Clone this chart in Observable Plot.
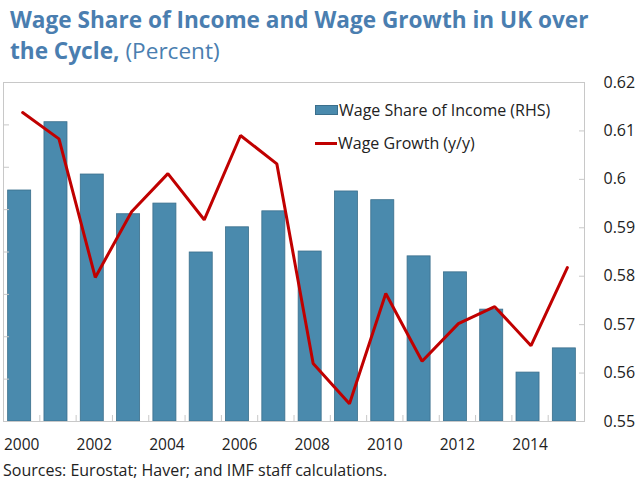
<!DOCTYPE html>
<html>
<head>
<meta charset="utf-8">
<script src="https://cdn.jsdelivr.net/npm/d3@7"></script>
<script src="https://cdn.jsdelivr.net/npm/@observablehq/plot@0.6"></script>
<style>
  html, body { margin: 0; padding: 0; background: #fff; }
  body { width: 639px; height: 481px; position: relative; overflow: hidden; font-family: "Open Sans", "Noto Sans", sans-serif; }
  #title { position: absolute; left: 10px; top: 4px; font-size: 22.6px; line-height: 31px; color: #4a7eb0; width: 625px; }
  #title .row { display: flex; white-space: nowrap; }
  #title .b { font-weight: 700; }
  #title .sub { font-weight: 400; margin-left: 6px; }
  #chart { position: absolute; left: 0; top: 65px; }
  #legend { position: absolute; left: 315px; top: 99px; font-size: 16px; color: #222; }
  .item { display: flex; align-items: center; height: 22px; margin-bottom: 11px; }
  .sw { width: 21px; height: 8px; background: #4a8aad; border: 1px solid #3b6f8c; margin-right: 1px; }
  .ln { width: 22px; height: 3px; background: #c00000; margin-right: 1px; }
  #source { position: absolute; left: 3px; top: 459px; font-size: 16px; color: #222; }
</style>
</head>
<body>
<div id="title">
  <div class="row"><span class="b">Wage Share of Income and Wage Growth in UK over</span></div>
  <div class="row"><span class="b">the Cycle,</span><span class="sub">(Percent)</span></div>
</div>
<div id="chart"></div>
<div id="legend">
  <div class="item"><div class="sw"></div>Wage Share of Income (RHS)</div>
  <div class="item"><div class="ln"></div>Wage Growth (y/y)</div>
</div>
<div id="source">Sources: Eurostat; Haver; and IMF staff calculations.</div>
<script>
const years = [2000,2001,2002,2003,2004,2005,2006,2007,2008,2009,2010,2011,2012,2013,2014,2015];
const wageShare = [0.5977,0.6118,0.6010,0.5928,0.5950,0.5849,0.5901,0.5934,0.5851,0.5975,0.5957,0.5841,0.5808,0.5731,0.5601,0.5651];
const wageGrowth = [5.29,4.67,1.40,2.95,3.85,2.76,4.75,4.08,-0.63,-1.58,1.02,-0.58,0.31,0.71,-0.21,1.63];
const rightTicks = [0.55,0.56,0.57,0.58,0.59,0.60,0.61,0.62];
const rightTickLabels = ["0.55","0.56","0.57","0.58","0.59","0.6","0.61","0.62"];
const leftTicks = [-2,-1,0,1,2,3,4,5,6];
const xLabelYears = [2000,2002,2004,2006,2008,2010,2012,2014];

const shareDomain = [0.55, 0.62];
const growthDomain = [-2, 6];
// map left-axis (growth) units onto the right-axis (share) scale
const toShare = g => shareDomain[0] + (g - growthDomain[0]) / (growthDomain[1] - growthDomain[0]) * (shareDomain[1] - shareDomain[0]);

const data = years.map((y, i) => ({year: y, share: wageShare[i], growth: wageGrowth[i]}));
const between = years.slice(1).map(y => y - 0.5);

const chart = Plot.plot({
  width: 639,
  height: 400,
  marginTop: 17,
  marginBottom: 44,
  marginLeft: 3,
  marginRight: 55,
  style: {fontFamily: "'Open Sans', 'Noto Sans', sans-serif", fontSize: "15px", color: "#222", background: "white"},
  x: {domain: [years[0] - 0.5, years[years.length - 1] + 0.5], axis: null, label: null},
  y: {domain: shareDomain, axis: null, label: null},
  marks: [
    Plot.rectY(data, {x1: d => d.year - 0.317, x2: d => d.year + 0.317, y1: shareDomain[0], y2: "share", fill: "#4a8aad", stroke: "#3b6f8c", strokeWidth: 0.8, dx: -2}),
    Plot.line(data, {x: "year", y: d => toShare(d.growth), stroke: "#c00000", strokeWidth: 3, strokeLinejoin: "miter", dx: 1}),
    Plot.frame({stroke: "#c8c8c8"}),
    Plot.axisY({anchor: "left", label: null, ticks: leftTicks.slice(1, -1).map(toShare), tickSize: -6, tickFormat: () => "", stroke: "#c8c8c8"}),
    Plot.axisY({anchor: "right", label: null, ticks: rightTicks.slice(1, -1), tickSize: -6, tickFormat: () => "", stroke: "#c8c8c8"}),
    Plot.axisY({anchor: "right", label: null, ticks: rightTicks, tickSize: 0, tickPadding: 19, tickFormat: d => rightTickLabels[rightTicks.indexOf(d)], textAnchor: "start", fill: "#222", fontSize: 16}),
    Plot.axisX({anchor: "bottom", label: null, ticks: between, tickSize: -6, tickFormat: () => "", stroke: "#c8c8c8"}),
    Plot.axisX({anchor: "bottom", label: null, ticks: xLabelYears, tickSize: 0, tickPadding: 17, tickFormat: d => String(d), fill: "#222", fontSize: 15.5})
  ]
});
document.getElementById("chart").appendChild(chart);
</script>
</body>
</html>
